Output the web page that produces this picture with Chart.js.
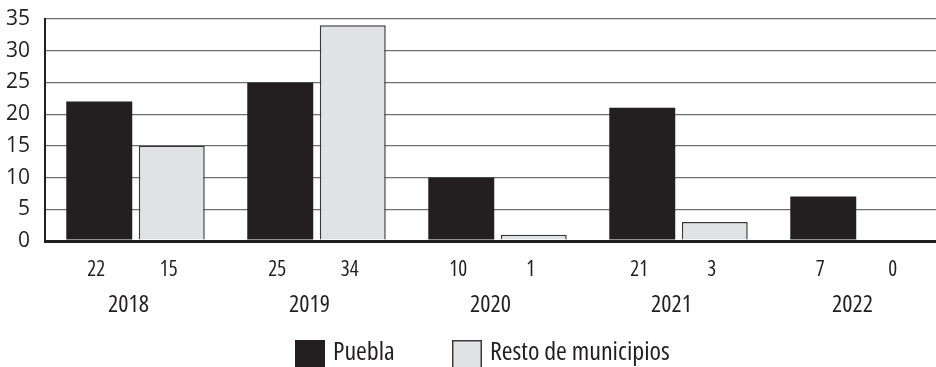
<!DOCTYPE html>
<html><head><meta charset="utf-8">
<script src="https://cdn.jsdelivr.net/npm/chart.js@4/dist/chart.umd.min.js"></script>
<style>
html,body{margin:0;padding:0;background:#fff;overflow:hidden;width:936px;height:367px}
#wrap{position:relative;width:952px;height:367px}
</style></head><body>
<div id="wrap"><canvas id="c" width="952" height="367"></canvas></div>
<script>
// Cases per year: Puebla vs. the rest of the municipalities
const years = ['2018', '2019', '2020', '2021', '2022'];
const puebla = [22, 25, 10, 21, 7];
const restoMunicipios = [15, 34, 1, 3, 0];
const seriesNames = ['Puebla', 'Resto de municipios'];

const FONT = "'Open Sans', 'Noto Sans', sans-serif";
const STRETCH = 'semi-condensed';
const INK = '#231f20';
const LIGHT = '#e1e2e4';

// Value row, year row and legend drawn under the plot area
const underLabels = {
  id: 'underLabels',
  afterDraw(chart) {
    const ctx = chart.ctx;
    const x = chart.scales.x;
    ctx.save();
    ctx.fillStyle = INK;
    ctx.textAlign = 'center';
    ctx.textBaseline = 'middle';
    ctx.font = STRETCH + ' 21px ' + FONT;
    chart.data.datasets.forEach((ds, i) => {
      chart.getDatasetMeta(i).data.forEach((bar, j) => {
        ctx.fillText(String(ds.data[j]), bar.x - 3, 270);
      });
    });
    ctx.font = STRETCH + ' 24px ' + FONT;
    chart.data.labels.forEach((lab, j) => {
      ctx.fillText(lab, x.getPixelForValue(j) - 7, 305);
    });
    // legend
    ctx.font = STRETCH + ' 26px ' + FONT;
    ctx.textAlign = 'left';
    ctx.textBaseline = 'alphabetic';
    const items = [
      {box: 295, text: 333, ds: chart.data.datasets[0]},
      {box: 452, text: 490, ds: chart.data.datasets[1]}
    ];
    items.forEach(it => {
      ctx.fillStyle = it.ds.backgroundColor;
      ctx.fillRect(it.box, 340, 30, 30);
      if (it.ds.borderWidth) {
        ctx.strokeStyle = it.ds.borderColor;
        ctx.lineWidth = 1.5;
        ctx.strokeRect(it.box + 0.75, 340.75, 28.5, 30);
      }
      ctx.fillStyle = INK;
      ctx.fillText(it.ds.label, it.text, 360);
    });
    ctx.restore();
  }
};

new Chart(document.getElementById('c'), {
  type: 'bar',
  data: {
    labels: years,
    datasets: [
      {label: seriesNames[0], data: puebla, backgroundColor: INK, borderWidth: 0},
      {label: seriesNames[1], data: restoMunicipios, backgroundColor: LIGHT,
       borderColor: '#3a3a3a', borderWidth: 1.5}
    ]
  },
  options: {
    responsive: false,
    animation: false,
    events: [],
    categoryPercentage: 0.801,
    barPercentage: 0.91,
    layout: {padding: {top: 19, right: 2, left: 0, bottom: 0}},
    plugins: {legend: {display: false}, tooltip: {enabled: false}},
    scales: {
      x: {
        ticks: {display: false},
        grid: {display: false},
        border: {display: true, color: INK, width: 3},
        afterFit(s) { s.height = 126; s.paddingLeft = 0; s.paddingRight = 0; }
      },
      y: {
        min: 0, max: 35,
        ticks: {stepSize: 5, color: INK, padding: 15, font: {family: FONT, size: 21, style: STRETCH}},
        grid: {
          drawTicks: false,
          color: ctx => ctx.tick && ctx.tick.value === 0 ? INK : '#6f6f6f',
          lineWidth: ctx => ctx.tick && ctx.tick.value === 0 ? 3 : 1.2
        },
        border: {display: true, color: INK, width: 2},
        afterFit(s) { s.width = 45; s.paddingTop = 0; s.paddingBottom = 0; }
      }
    }
  },
  plugins: [underLabels]
});
</script>
</body></html>
